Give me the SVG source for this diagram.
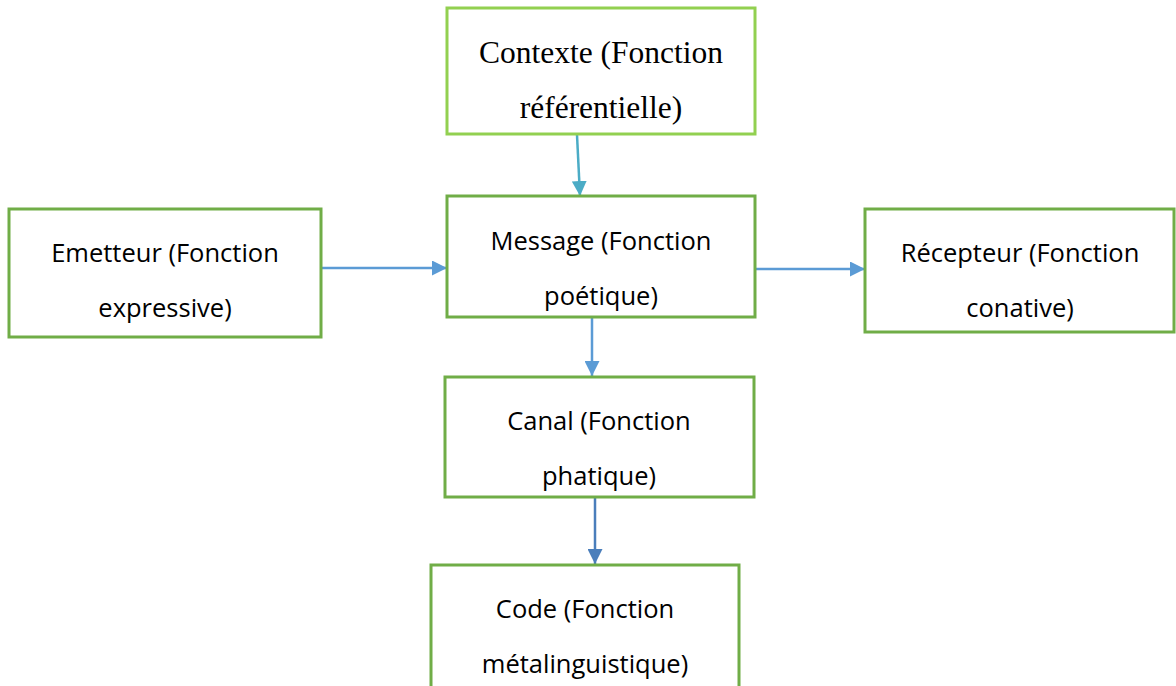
<svg xmlns="http://www.w3.org/2000/svg" width="1176" height="686" viewBox="0 0 1176 686">
<style>
.box{fill:#fff;stroke:#70AD47;stroke-width:3}
.box2{fill:#fff;stroke:#92D050;stroke-width:3}
.t{font-family:"Open Sans","Liberation Sans",sans-serif;font-size:25.5px;fill:#000;text-anchor:middle}
.ts{font-family:"Liberation Serif","Times New Roman",serif;font-size:31.5px;fill:#000;text-anchor:middle}
.c{fill:none;stroke-width:2.5}
</style>
<defs>
<marker id="aTeal" viewBox="0 0 10 10" refX="10" refY="5" markerWidth="15" markerHeight="15" markerUnits="userSpaceOnUse" orient="auto"><path d="M0,0 L10,5 L0,10 z" fill="#4BACC6"/></marker>
<marker id="aBlue" viewBox="0 0 10 10" refX="10" refY="5" markerWidth="15" markerHeight="15" markerUnits="userSpaceOnUse" orient="auto"><path d="M0,0 L10,5 L0,10 z" fill="#5B9BD5"/></marker>
<marker id="aDark" viewBox="0 0 10 10" refX="10" refY="5" markerWidth="15" markerHeight="15" markerUnits="userSpaceOnUse" orient="auto"><path d="M0,0 L10,5 L0,10 z" fill="#4A7EBB"/></marker>
</defs>
<rect width="1176" height="686" fill="#fff"/>
<g id="connectors">
<path class="c" d="M577,135 L580,196" stroke="#4BACC6" marker-end="url(#aTeal)"/>
<path class="c" d="M322,268 L447,268" stroke="#5B9BD5" marker-end="url(#aBlue)"/>
<path class="c" d="M752,269 L865,269" stroke="#5B9BD5" marker-end="url(#aBlue)"/>
<path class="c" d="M592,318 L592,376" stroke="#5B9BD5" marker-end="url(#aBlue)"/>
<path class="c" d="M595,498 L595,564" stroke="#4A7EBB" marker-end="url(#aDark)"/>
</g>
<g id="contexte">
<rect class="box2" x="447" y="8" width="308" height="126"/>
<text class="ts" x="601" y="63">Contexte (Fonction</text>
<text class="ts" x="601" y="118">référentielle)</text>
</g>
<g id="message">
<rect class="box" x="447" y="196" width="308" height="121"/>
<text class="t" x="601" y="250">Message (Fonction</text>
<text class="t" x="601" y="305">poétique)</text>
</g>
<g id="emetteur">
<rect class="box" x="9" y="209" width="312" height="128"/>
<text class="t" x="165" y="262">Emetteur (Fonction</text>
<text class="t" x="165" y="317">expressive)</text>
</g>
<g id="recepteur">
<rect class="box" x="865" y="209" width="309" height="123"/>
<text class="t" x="1020" y="262">Récepteur (Fonction</text>
<text class="t" x="1020" y="317">conative)</text>
</g>
<g id="canal">
<rect class="box" x="445" y="377" width="309" height="120"/>
<text class="t" x="599" y="430">Canal (Fonction</text>
<text class="t" x="599" y="485">phatique)</text>
</g>
<g id="code">
<rect class="box" x="431" y="565" width="308" height="130"/>
<text class="t" x="585" y="618">Code (Fonction</text>
<text class="t" x="585" y="673">métalinguistique)</text>
</g>
</svg>
